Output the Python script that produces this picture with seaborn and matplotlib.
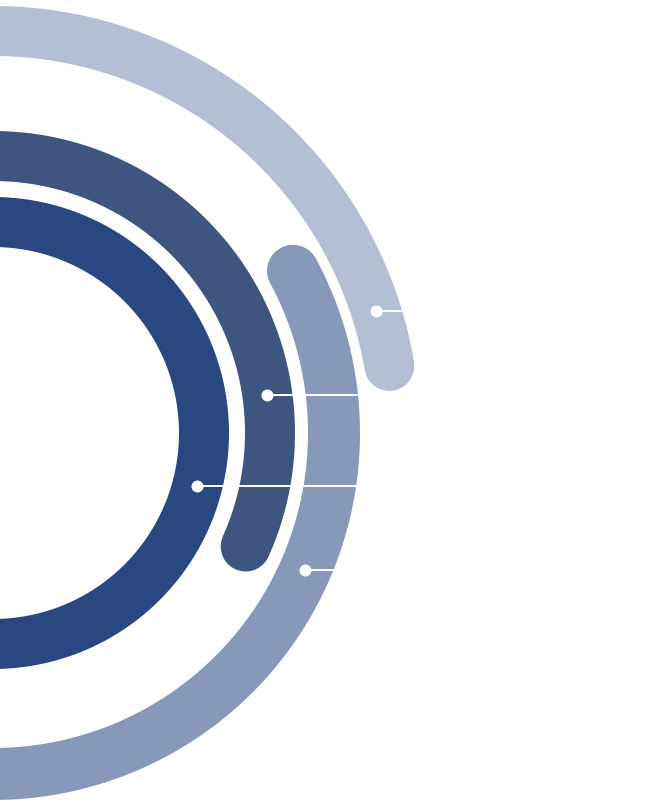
import numpy as np
import pandas as pd
import matplotlib.pyplot as plt
import seaborn as sns

sns.set_theme(style="white")

# 四个圆环：中心半径、环宽、起止角度（度，逆时针为正，0 在右侧）
ring_names = ['环1', '环2', '环3', '环4']
ring_radius = [211, 277, 341, 402]
ring_width = [50, 50, 52, 50]
arc_start = [0, -24.2, 28.4, 9.6]
arc_end = [360, 250, -250, 230]
ring_colors = ['#294881', '#3d557f', '#8798ba', '#b4bfd3']

# 标注点所在角度，引线终点横坐标（以圆心为原点）
dot_angle = [-14.6, 7.9, -23.7, 17.7]
leader_end_x = [363, 364, 340, 408]

# 画布 662x803，圆心在左侧边缘外
W, H, dpi = 662, 803, 100
cx, cy = -7, 803 - 434
R = 450
fig = plt.figure(figsize=(W / dpi, H / dpi), dpi=dpi)
ax = fig.add_axes([(cx - R) / W, (cy - R) / H, 2 * R / W, 2 * R / H], projection='polar')
ax.set_theta_zero_location('E')

px2pt = 72 / dpi

# 圆环
for name, r, w, a0, a1, c in zip(ring_names, ring_radius, ring_width, arc_start, arc_end, ring_colors):
    th = np.radians(np.linspace(a0, a1, 600))
    seg = pd.DataFrame({'theta': th, 'r': r})
    sns.lineplot(data=seg, x='theta', y='r', ax=ax, color=c, lw=w * px2pt,
                 sort=False, estimator=None, solid_capstyle='round', zorder=1)

# 引线和圆点
for r, a, xe in zip(ring_radius, dot_angle, leader_end_x):
    t = np.radians(a)
    x0, y0 = r * np.cos(t), r * np.sin(t)
    xs = np.linspace(x0, xe, 30)
    ax.plot(np.arctan2(y0, xs), np.hypot(xs, y0), color='white', lw=2 * px2pt, zorder=2)

dots = pd.DataFrame({'theta': np.radians(dot_angle), 'r': ring_radius})
sns.scatterplot(data=dots, x='theta', y='r', ax=ax, color='white', s=(12 * px2pt) ** 2,
                linewidth=0, zorder=3)

ax.set_ylim(0, R)
ax.set_axis_off()

fig.savefig('out.png', dpi=dpi)
